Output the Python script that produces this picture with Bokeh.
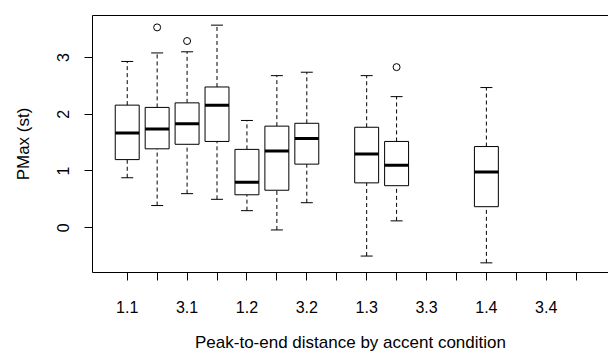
from bokeh.plotting import figure
from bokeh.models import FixedTicker, LinearAxis, ColumnDataSource, Range1d
from bokeh.embed import file_html
from bokeh.resources import INLINE

# ---- data ----
categories = ["1.1", "2.1", "3.1", "4.1", "1.2", "2.2", "3.2", "4.2",
              "1.3", "2.3", "3.3", "4.3", "1.4", "2.4", "3.4", "4.4"]
# groups that actually have a box
box_groups = ["1.1", "2.1", "3.1", "4.1", "1.2", "2.2", "3.2", "1.3", "2.3", "1.4"]
whisker_lo = [0.88, 0.39, 0.60, 0.50, 0.30, -0.04, 0.44, -0.50, 0.12, -0.62]
q1         = [1.20, 1.39, 1.47, 1.52, 0.58, 0.66, 1.12, 0.79, 0.74, 0.37]
medians    = [1.67, 1.74, 1.83, 2.16, 0.80, 1.35, 1.57, 1.30, 1.10, 0.98]
q3         = [2.16, 2.12, 2.20, 2.48, 1.38, 1.79, 1.84, 1.77, 1.52, 1.43]
whisker_hi = [2.93, 3.08, 3.10, 3.57, 1.89, 2.68, 2.74, 2.68, 2.31, 2.47]
outlier_groups = ["2.1", "3.1", "2.3"]
outlier_values = [3.53, 3.29, 2.83]

y_ticks = [0, 1, 2, 3]
x_title = "Peak-to-end distance by accent condition"
y_title = "PMax (st)"

FONT = "Liberation Sans"
FS_TICK = "16px"
FS_TITLE = "17px"

pos = {c: i + 1 for i, c in enumerate(categories)}
bx = [pos[c] for c in box_groups]
box_w = 0.8
cap_w = 0.4

src = ColumnDataSource(dict(
    x=bx,
    left=[x - box_w / 2 for x in bx], right=[x + box_w / 2 for x in bx],
    capl=[x - cap_w / 2 for x in bx], capr=[x + cap_w / 2 for x in bx],
    lo=whisker_lo, q1=q1, med=medians, q3=q3, hi=whisker_hi,
))
osrc = ColumnDataSource(dict(x=[pos[c] for c in outlier_groups], y=outlier_values))

Y0, Y1 = -0.79, 3.74
p = figure(width=608, height=354, output_backend="svg", toolbar_location=None,
           x_range=Range1d(-0.16, 17.08), y_range=Range1d(Y0, Y1),
           min_border_left=92, min_border_right=0, min_border_top=15,
           min_border_bottom=82)
p.outline_line_color = None
p.xgrid.visible = False
p.ygrid.visible = False
p.background_fill_color = "white"

# whiskers (dashed)
p.segment(x0="x", y0="q3", x1="x", y1="hi", source=src, line_color="black",
          line_width=1, line_dash="4 3")
p.segment(x0="x", y0="lo", x1="x", y1="q1", source=src, line_color="black",
          line_width=1, line_dash="4 3")
# caps
p.segment(x0="capl", y0="hi", x1="capr", y1="hi", source=src, line_color="black", line_width=1)
p.segment(x0="capl", y0="lo", x1="capr", y1="lo", source=src, line_color="black", line_width=1)
# boxes
p.quad(left="left", right="right", bottom="q1", top="q3", source=src,
       fill_color="white", line_color="black", line_width=1)
# medians
p.segment(x0="left", y0="med", x1="right", y1="med", source=src,
          line_color="black", line_width=3)
# outliers
p.scatter(x="x", y="y", source=osrc, size=7, marker="circle",
          fill_color=None, line_color="black", line_width=1)

# x axis
xa = p.xaxis[0]
xa.ticker = FixedTicker(ticks=list(range(1, len(categories) + 1)))
xa.major_label_overrides = {i + 1: (c if i % 2 == 0 else "") for i, c in enumerate(categories)}
xa.minor_tick_line_color = None
xa.major_tick_in = 0
xa.major_tick_out = 8
xa.major_label_standoff = 20
xa.axis_label = x_title
xa.axis_label_standoff = 17

# y axis
ya = p.yaxis[0]
ya.ticker = FixedTicker(ticks=y_ticks)
ya.major_label_orientation = "vertical"
ya.minor_tick_line_color = None
ya.major_tick_in = 0
ya.major_tick_out = 8
ya.major_label_standoff = 15
ya.axis_label = y_title
ya.axis_label_standoff = 22

for ax in (xa, ya):
    ax.axis_line_color = "black"
    ax.major_tick_line_color = "black"
    ax.major_label_text_font = FONT
    ax.major_label_text_font_size = FS_TICK
    ax.major_label_text_color = "black"
    ax.axis_label_text_font = FONT
    ax.axis_label_text_font_size = FS_TITLE
    ax.axis_label_text_font_style = "normal"
    ax.axis_label_text_color = "black"

# top border of the plotting box
top = LinearAxis(ticker=FixedTicker(ticks=[]), major_label_text_font_size="0px",
                 major_tick_out=0, major_tick_in=0, minor_tick_out=0, minor_tick_in=0,
                 axis_line_color="black")
p.add_layout(top, "above")

open("out.html", "w").write(file_html(p, INLINE))
